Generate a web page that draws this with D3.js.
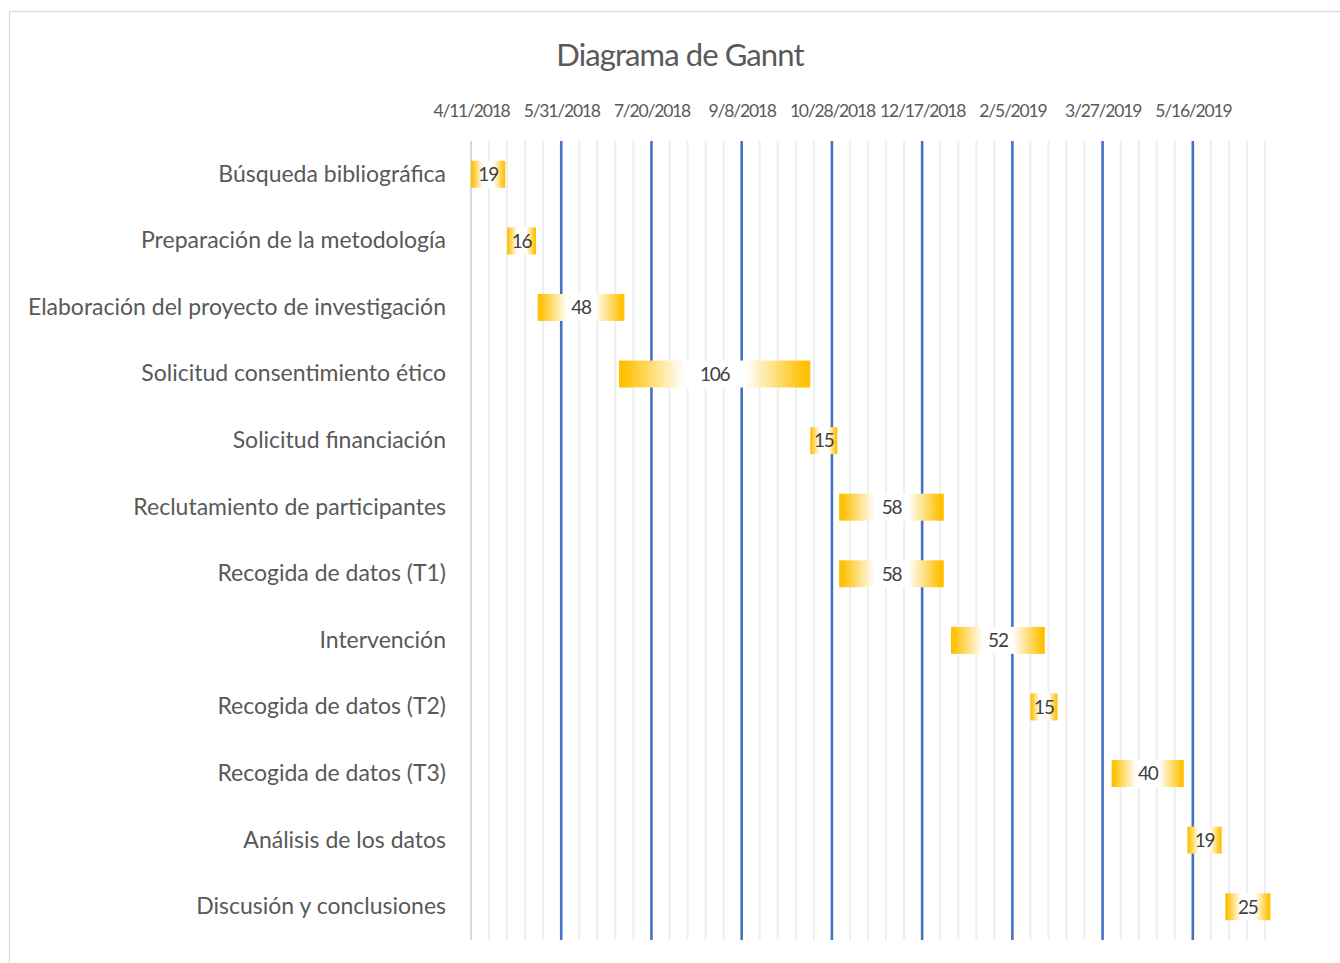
<!DOCTYPE html>
<html>
<head>
<meta charset="utf-8">
<script src="https://cdn.jsdelivr.net/npm/d3@7"></script>
<style>
  html, body { margin: 0; padding: 0; background: #ffffff; }
  svg { display: block; }
  text { font-family: Lato, "Open Sans", sans-serif; }
</style>
</head>
<body>
<svg id="chart" width="1340" height="963"></svg>
<script>
// Project tasks, start dates and durations (days)
const tasks = [
  "Búsqueda bibliográfica",
  "Preparación de la metodología",
  "Elaboración del proyecto de investigación",
  "Solicitud consentimiento ético",
  "Solicitud financiación",
  "Reclutamiento de participantes",
  "Recogida de datos (T1)",
  "Intervención",
  "Recogida de datos (T2)",
  "Recogida de datos (T3)",
  "Análisis de los datos",
  "Discusión y conclusiones"
];
const startDates = [
  "4/11/2018", "5/1/2018", "5/18/2018", "7/2/2018", "10/16/2018", "11/1/2018",
  "11/1/2018", "1/2/2019", "2/15/2019", "4/1/2019", "5/13/2019", "6/3/2019"
];
const durations = [19, 16, 48, 106, 15, 58, 58, 52, 15, 40, 19, 25];

// Axis: labelled ticks every 50 days, minor grid every 10 days
const tickLabels = [
  "4/11/2018", "5/31/2018", "7/20/2018", "9/8/2018", "10/28/2018",
  "12/17/2018", "2/5/2019", "3/27/2019", "5/16/2019"
];
const axisMin = "4/11/2018";
const axisMax = "6/25/2019";
const minorStepDays = 10;

const parse = d3.utcParse("%m/%d/%Y");
const svg = d3.select("#chart");

const margin = { left: 471, right: 1265, top: 141, bottom: 940 };

const x = d3.scaleUtc()
  .domain([parse(axisMin), parse(axisMax)])
  .range([margin.left, margin.right]);

const y = d3.scaleBand()
  .domain(tasks)
  .range([margin.top, margin.bottom])
  .paddingInner(0.595)
  .paddingOuter(0.2975);

// Chart frame
svg.append("rect")
  .attr("x", 9.5).attr("y", 11.5)
  .attr("width", 1400).attr("height", 1000)
  .attr("fill", "#ffffff")
  .attr("stroke", "#d9d9d9").attr("stroke-width", 1.2);

// Title
svg.append("text")
  .attr("x", 680).attr("y", 66)
  .attr("text-anchor", "middle")
  .attr("font-size", 31)
  .attr("letter-spacing", -0.9)
  .attr("fill", "#595959")
  .text("Diagrama de Gannt");

// Bar fill: gold at both ends, white through the middle
const defs = svg.append("defs");
const grad = defs.append("linearGradient")
  .attr("id", "barFill")
  .attr("x1", "0%").attr("x2", "100%").attr("y1", "0%").attr("y2", "0%");
[["0%", "#ffc000"], ["4%", "#ffc209"], ["34%", "#ffffff"], ["66%", "#ffffff"], ["96%", "#ffc209"], ["100%", "#ffc000"]]
  .forEach(([o, c]) => grad.append("stop").attr("offset", o).attr("stop-color", c));

// Minor gridlines
const minorDates = d3.utcDay.range(parse(axisMin), d3.utcDay.offset(parse(axisMax), 1))
  .filter((d, i) => i % minorStepDays === 0);
const tickDates = tickLabels.map(parse);
const isMajor = d => tickDates.some(t => +t === +d);

svg.append("g")
  .selectAll("line")
  .data(minorDates.filter(d => !isMajor(d)))
  .join("line")
  .attr("x1", d => x(d)).attr("x2", d => x(d))
  .attr("y1", margin.top).attr("y2", margin.bottom)
  .attr("stroke", "#eeeeee").attr("stroke-width", 2);

// Major gridlines (blue), first one is the category axis line
svg.append("g")
  .selectAll("line")
  .data(tickDates)
  .join("line")
  .attr("x1", d => x(d)).attr("x2", d => x(d))
  .attr("y1", margin.top).attr("y2", margin.bottom)
  .attr("stroke", (d, i) => i === 0 ? "#d9d9d9" : "#4472c4")
  .attr("stroke-width", (d, i) => i === 0 ? 2 : 2.6);

// Date axis on top
const xAxis = d3.axisTop(x)
  .tickValues(tickDates)
  .tickFormat((d, i) => tickLabels[i])
  .tickSize(0)
  .tickPadding(0);
const gx = svg.append("g")
  .attr("transform", "translate(0,117)")
  .call(xAxis);
gx.select(".domain").remove();
gx.selectAll("text")
  .attr("font-family", "Lato, sans-serif")
  .attr("font-size", 17.5)
  .attr("letter-spacing", -1.2)
  .attr("fill", "#595959");

// Task labels
const yAxis = d3.axisLeft(y).tickSize(0).tickPadding(0);
const gy = svg.append("g")
  .attr("transform", "translate(446,0)")
  .call(yAxis);
gy.select(".domain").remove();
gy.selectAll("text")
  .attr("font-family", "Lato, sans-serif")
  .attr("font-size", 23)
  .attr("letter-spacing", 0)
  .attr("fill", "#595959");

// Bars
const rows = tasks.map((t, i) => ({
  task: t,
  start: parse(startDates[i]),
  end: d3.utcDay.offset(parse(startDates[i]), durations[i]),
  dur: durations[i]
}));

const bars = svg.append("g");
bars.selectAll("rect")
  .data(rows)
  .join("rect")
  .attr("x", d => x(d.start))
  .attr("y", d => y(d.task))
  .attr("width", d => x(d.end) - x(d.start))
  .attr("height", y.bandwidth())
  .attr("fill", "url(#barFill)");

bars.selectAll("text")
  .data(rows)
  .join("text")
  .attr("x", d => (x(d.start) + x(d.end)) / 2)
  .attr("y", d => y(d.task) + y.bandwidth() / 2)
  .attr("dy", "0.36em")
  .attr("text-anchor", "middle")
  .attr("font-size", 19)
  .attr("letter-spacing", -1.2)
  .attr("fill", "#404040")
  .text(d => d.dur);
</script>
</body>
</html>
